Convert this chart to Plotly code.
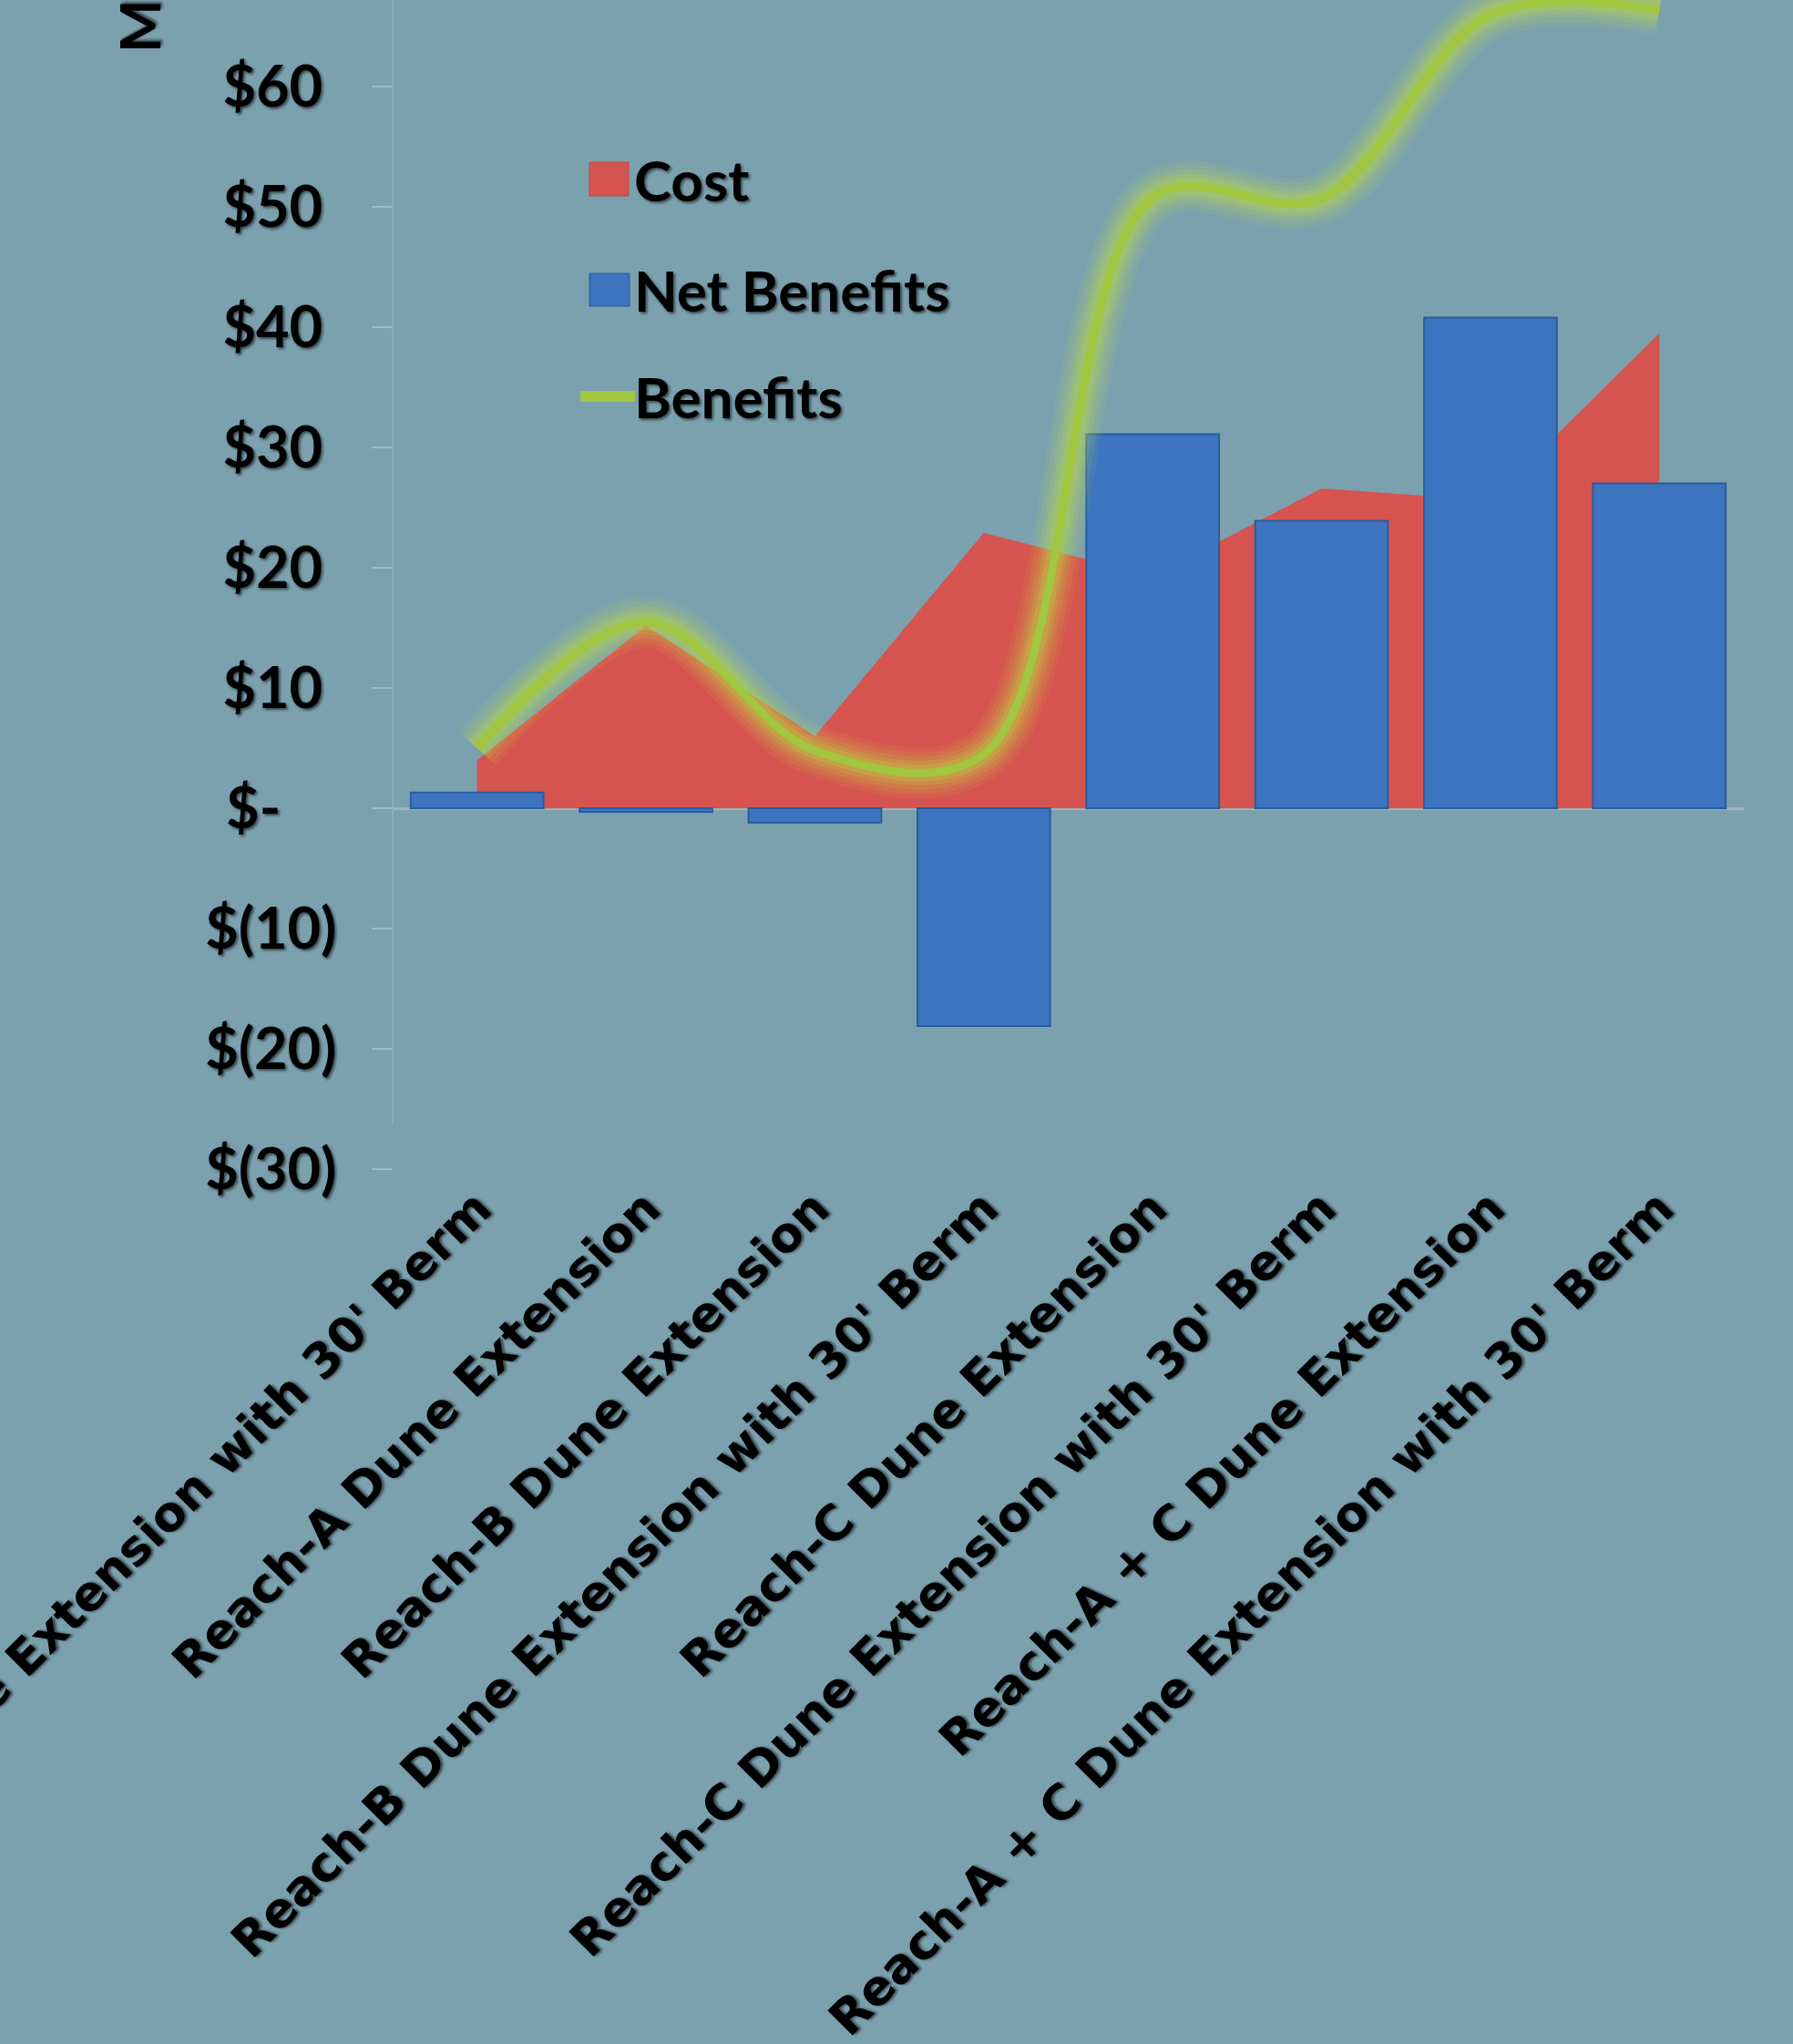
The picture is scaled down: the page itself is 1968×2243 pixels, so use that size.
import plotly.graph_objects as go

# ---------------- data ----------------
categories = [
    "Reach-A Dune Extension with 30' Berm",
    "Reach-A Dune Extension",
    "Reach-B Dune Extension",
    "Reach-B Dune Extension with 30' Berm",
    "Reach-C Dune Extension",
    "Reach-C Dune Extension with 30' Berm",
    "Reach-A + C Dune Extension",
    "Reach-A + C Dune Extension with 30' Berm",
]
cost = [4.0, 15.2, 6.0, 22.9, 19.3, 26.6, 25.6, 39.5]
net_benefits = [1.3, -0.3, -1.2, -18.1, 31.1, 23.9, 40.8, 27.0]
benefits = [5.0, 15.5, 4.8, 4.5, 50.8, 50.7, 66.0, 66.4]

tick_values = [-30, -20, -10, 0, 10, 20, 30, 40, 50, 60]
tick_labels = ["$(30)", "$(20)", "$(10)", "$-", "$10", "$20", "$30", "$40", "$50", "$60"]
y_title = "Millions"
legend_names = ["Cost", "Net Benefits", "Benefits"]

# ---------------- layout constants ----------------
W, H = 1968, 2243
L, R, T, B = 431, 1914, 0, 1283
BG = "#7ba1af"
RED = "#d6544f"
BLUE = "#3c74bf"
GREEN = "#a1c640"
SHADOW = "2px 2px 3px rgba(0,0,0,0.55)"
Y_RANGE = [-30, 67.2]


def px_x(p):
    return (p - L) / (R - L)


def px_y(p):
    return 1 - (p - T) / (B - T)


# accounting-style right padding
def pad_label(t):
    if t == "$-":
        return t + "\u00a0" * 4
    if t.startswith("$("):
        return t
    return t + "\u00a0"


fig = go.Figure()

# Cost area (bottom layer)
fig.add_trace(go.Scatter(
    x=categories, y=cost, mode="lines", fill="tozeroy",
    line=dict(width=0, color=RED), fillcolor=RED,
    name=legend_names[0], showlegend=False, xaxis="x", yaxis="y",
))

# Net benefits bars (overlay layer 2)
fig.add_trace(go.Bar(
    x=categories, y=net_benefits, name=legend_names[1],
    marker=dict(color=BLUE, line=dict(color="#2a5c9c", width=2)),
    showlegend=False, xaxis="x2", yaxis="y2",
))

# Benefits line with soft glow (overlay layer 3)
for w, c in [(56, "rgba(200,225,70,0.08)"), (46, "rgba(200,225,70,0.10)"),
             (36, "rgba(195,222,70,0.13)"), (27, "rgba(190,220,65,0.18)"),
             (19, "rgba(185,215,65,0.25)")]:
    fig.add_trace(go.Scatter(
        x=categories, y=benefits, mode="lines",
        line=dict(width=w, color=c, shape="spline", smoothing=1.0),
        hoverinfo="skip", showlegend=False, xaxis="x3", yaxis="y3",
    ))
fig.add_trace(go.Scatter(
    x=categories, y=benefits, mode="lines", name=legend_names[2],
    line=dict(width=9, color=GREEN, shape="spline", smoothing=1.0),
    showlegend=False, xaxis="x3", yaxis="y3",
))

hidden_x = dict(type="category", range=[-0.5, 7.5], categoryarray=categories,
                visible=False, overlaying="x", automargin=False)
hidden_y = dict(range=Y_RANGE, visible=False, overlaying="y", automargin=False)

fig.update_layout(
    width=W, height=H,
    margin=dict(l=L, r=W - R, t=T, b=H - B, pad=0),
    paper_bgcolor=BG, plot_bgcolor=BG,
    showlegend=False,
    bargap=0.214,
    font=dict(family="Lato", color="black"),
    xaxis=dict(
        type="category", range=[-0.5, 7.5], categoryarray=categories,
        tickangle=-45, showgrid=False, zeroline=False, showline=False,
        ticks="", automargin=False,
        tickfont=dict(family="DejaVu Sans", size=53, weight="bold",
                      color="black", shadow=SHADOW),
    ),
    yaxis=dict(
        range=Y_RANGE, tickvals=tick_values,
        ticktext=[pad_label(t) for t in tick_labels],
        ticks="outside", ticklen=22, tickwidth=2, tickcolor="rgba(160,184,194,1)",
        showgrid=False, showline=False,
        zeroline=True, zerolinecolor="rgba(160,178,186,1)", zerolinewidth=3,
        automargin=False, ticklabelstandoff=26,
        tickfont=dict(family="Lato", size=63, weight="bold", color="black",
                      shadow=SHADOW),
    ),
    xaxis2=dict(hidden_x), yaxis2=dict(hidden_y),
    xaxis3=dict(hidden_x), yaxis3=dict(hidden_y),
)

shapes = []
# vertical axis line (ends a little above the bottom tick, as in the source)
shapes.append(dict(type="line", xref="paper", yref="y", x0=0, x1=0,
                   y0=-26.2, y1=Y_RANGE[1], layer="below",
                   line=dict(color="rgba(146,172,183,1)", width=2)))
# legend symbols
shapes.append(dict(type="rect", xref="paper", yref="paper",
                   x0=px_x(647), x1=px_x(690), y0=px_y(215), y1=px_y(178),
                   fillcolor=RED, line=dict(color="#c04843", width=1)))
shapes.append(dict(type="rect", xref="paper", yref="paper",
                   x0=px_x(647), x1=px_x(691), y0=px_y(336), y1=px_y(300),
                   fillcolor=BLUE, line=dict(color="#2a5c9c", width=1)))
shapes.append(dict(type="line", xref="paper", yref="paper",
                   x0=px_x(637), x1=px_x(697), y0=px_y(435), y1=px_y(435),
                   line=dict(color=GREEN, width=12)))
fig.update_layout(shapes=shapes)

leg_font = dict(family="Lato", size=62, weight="bold", color="black", shadow=SHADOW)
annotations = []
for name, yc in zip(legend_names, [197, 318, 435]):
    annotations.append(dict(text=name, xref="paper", yref="paper",
                            x=px_x(694), y=px_y(yc), xanchor="left", yanchor="middle",
                            showarrow=False, font=leg_font))
annotations.append(dict(text=y_title, textangle=-90, xref="paper", yref="paper",
                        x=px_x(152), y=px_y(60), xanchor="center", yanchor="bottom",
                        showarrow=False, font=leg_font))
fig.update_layout(annotations=annotations)

fig.write_html(
    "out.html",
    config=dict(displayModeBar=False),
    post_script="document.body.style.margin='0';document.body.style.background='%s';" % BG,
)
